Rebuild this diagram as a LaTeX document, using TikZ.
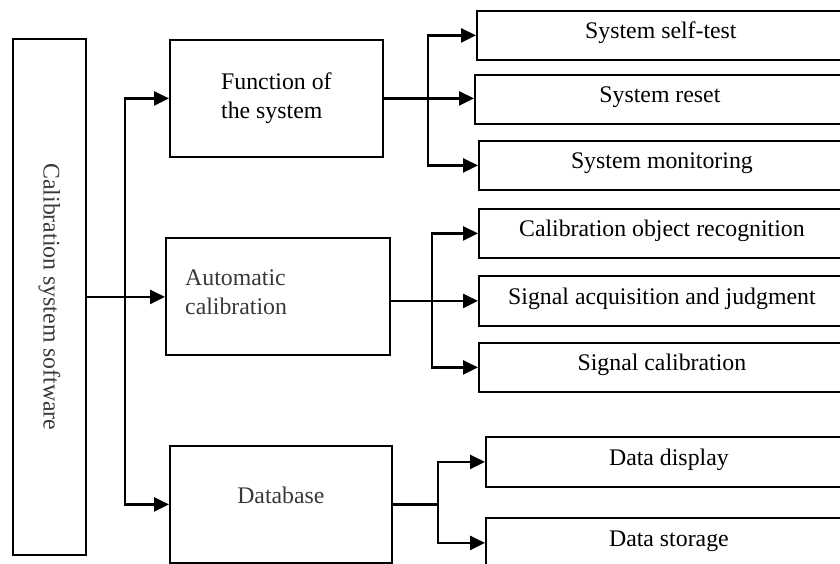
\documentclass[tikz,border=0pt]{standalone}
\usepackage{fontspec}
\setmainfont{Liberation Serif}
\usetikzlibrary{arrows.meta}
\begin{document}
\begin{tikzpicture}[x=1pt,y=-1pt,
  box/.style={draw=black, line width=1.8pt, rectangle, inner sep=0pt, anchor=north west, font=\fontsize{23.8}{29}\selectfont},
  one/.style={text height=16pt, text depth=9pt},
  lbl/.style={inner sep=0pt, font=\fontsize{23.8}{29}\selectfont},
  greytext/.style={text=black!78},
  conn/.style={line width=2.6pt},
  arr/.style={conn, -{Triangle[length=15pt,width=14pt]}},
  arrs/.style={conn, {Triangle[length=15pt,width=14pt]}-{Triangle[length=15pt,width=14pt]}}
]
\useasboundingbox (0,0) rectangle (840,563);
\clip (0,0) rectangle (840,563);

% left column
\node[box, minimum width=73pt, minimum height=516pt] (main) at (12,38) {};
\node[lbl, greytext, rotate=-90] (maintxt) at (main.center) {Calibration system software};

% middle column
\node[box, align=left, minimum width=213pt, minimum height=117pt] (func) at (169,39) {Function of\\the system};
\node[box, minimum width=224pt, minimum height=117pt] (auto) at (165,237) {};
\node[lbl, greytext, align=left, anchor=west] (autotxt) at ([xshift=20pt, yshift=4.5pt]auto.west) {Automatic\\calibration};
\node[box, greytext, text height=16pt, text depth=17pt, minimum width=222pt, minimum height=117pt] (db) at (169,445) {Database};

% right column
\node[box, one, minimum width=368pt, minimum height=49pt] (st) at (476,10) {System self-test};
\node[box, one, minimum width=370pt, minimum height=49pt] (sr) at (474,74) {System reset};
\node[box, one, minimum width=366pt, minimum height=49pt] (sm) at (478,140) {System monitoring};
\node[box, one, minimum width=366pt, minimum height=49pt] (cor) at (478,208) {Calibration object recognition};
\node[box, one, minimum width=366pt, minimum height=50pt] (sa) at (478,275) {Signal acquisition and judgment};
\node[box, one, minimum width=366pt, minimum height=49pt] (sc) at (478,342) {Signal calibration};
\node[box, one, minimum width=366pt, minimum height=50pt] (dd) at (485,436) {Data display};
\node[box, one, minimum width=366pt, minimum height=50pt] (ds) at (485,517) {Data storage};

% junction points
\coordinate (j1) at (125,296);
\coordinate (j2) at (428,98);
\coordinate (j3) at (432,299);
\coordinate (j4) at (438,503);

% connectors from main
\draw[arr] (main.east) -- (main.east -| auto.west);
\draw[arrs] (func.west) -| (j1) |- (db.west);

% function branch
\draw[arr] (func.east) -- (func.east -| sr.west);
\draw[arrs] (st.west) -| (j2) |- (sm.west);

% automatic calibration branch
\draw[arr] (sa.west -| auto.east) -- (sa.west);
\draw[arrs] (cor.west) -| (j3) |- (sc.west);

% database branch
\draw[conn] (db.east) -- (db.east -| j4);
\draw[arrs] (dd.west) -| (j4) |- (ds.west);
\end{tikzpicture}
\end{document}
